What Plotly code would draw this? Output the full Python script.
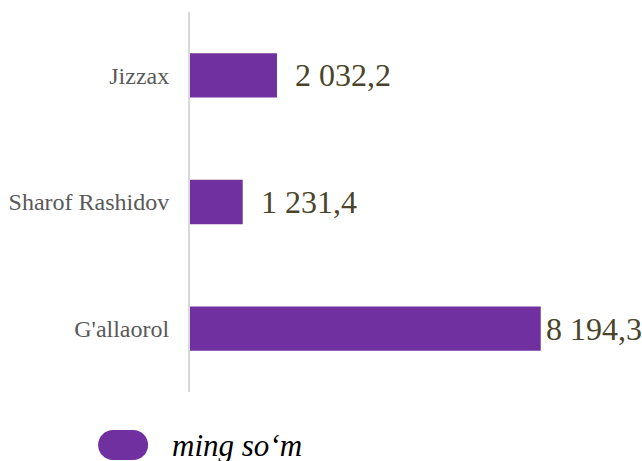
import plotly.graph_objects as go

# data (bottom to top)
districts = ["G'allaorol", "Sharof Rashidov", "Jizzax"]
values = [8194.3, 1231.4, 2032.2]
label_gap = [3, 16, 16]
series_name = "ming so\u2018m"

PURPLE = "#7030A0"
SERIF = "Liberation Serif, Times New Roman, serif"


def fmt(v):
    return f"{v:,.1f}".replace(",", " ").replace(".", ",")


fig = go.Figure(
    go.Bar(
        name=series_name,
        x=values,
        y=districts,
        orientation="h",
        width=0.35,
        marker=dict(color=PURPLE, line=dict(width=0)),
        showlegend=False,
    )
)

# data labels just right of each bar
for d, v, gap in zip(districts, values, label_gap):
    fig.add_annotation(
        x=v, y=d, xref="x", yref="y",
        text=fmt(v), showarrow=False,
        xanchor="left", yanchor="middle", xshift=gap,
        font=dict(family=SERIF, size=32, color="#4A452A"),
    )

# legend drawn by hand: rounded pill + italic caption
fig.add_shape(
    type="path",
    xref="paper", yref="paper",
    xsizemode="pixel", ysizemode="pixel",
    xanchor=-0.148, yanchor=-0.1395,
    path="M -10,15 L 10,15 C 18.3,15 25,8.3 25,0 C 25,-8.3 18.3,-15 10,-15 "
         "L -10,-15 C -18.3,-15 -25,-8.3 -25,0 C -25,8.3 -18.3,15 -10,15 Z",
    fillcolor=PURPLE, line=dict(width=0),
)
fig.add_annotation(
    x=-0.044, y=-0.1395, xref="paper", yref="paper",
    text=f"<i>{series_name}</i>", showarrow=False,
    xanchor="left", yanchor="middle",
    font=dict(family=SERIF, size=31, color="#000000"),
)

fig.update_layout(
    width=642, height=461,
    margin=dict(l=190, r=0, t=12, b=69),
    plot_bgcolor="white", paper_bgcolor="white",
)
fig.update_xaxes(range=[0, 10560], visible=False, showgrid=False, zeroline=False)
fig.update_yaxes(
    showline=True, linecolor="#D9D9D9", linewidth=2,
    showgrid=False, zeroline=False, ticks="",
    ticklabelstandoff=14,
    tickfont=dict(family=SERIF, size=24, color="#595959"),
)

# page body margin would push the figure 8px off
fig.write_html(
    "out.html",
    config={"displayModeBar": False},
    post_script="document.body.style.margin='0';",
)
